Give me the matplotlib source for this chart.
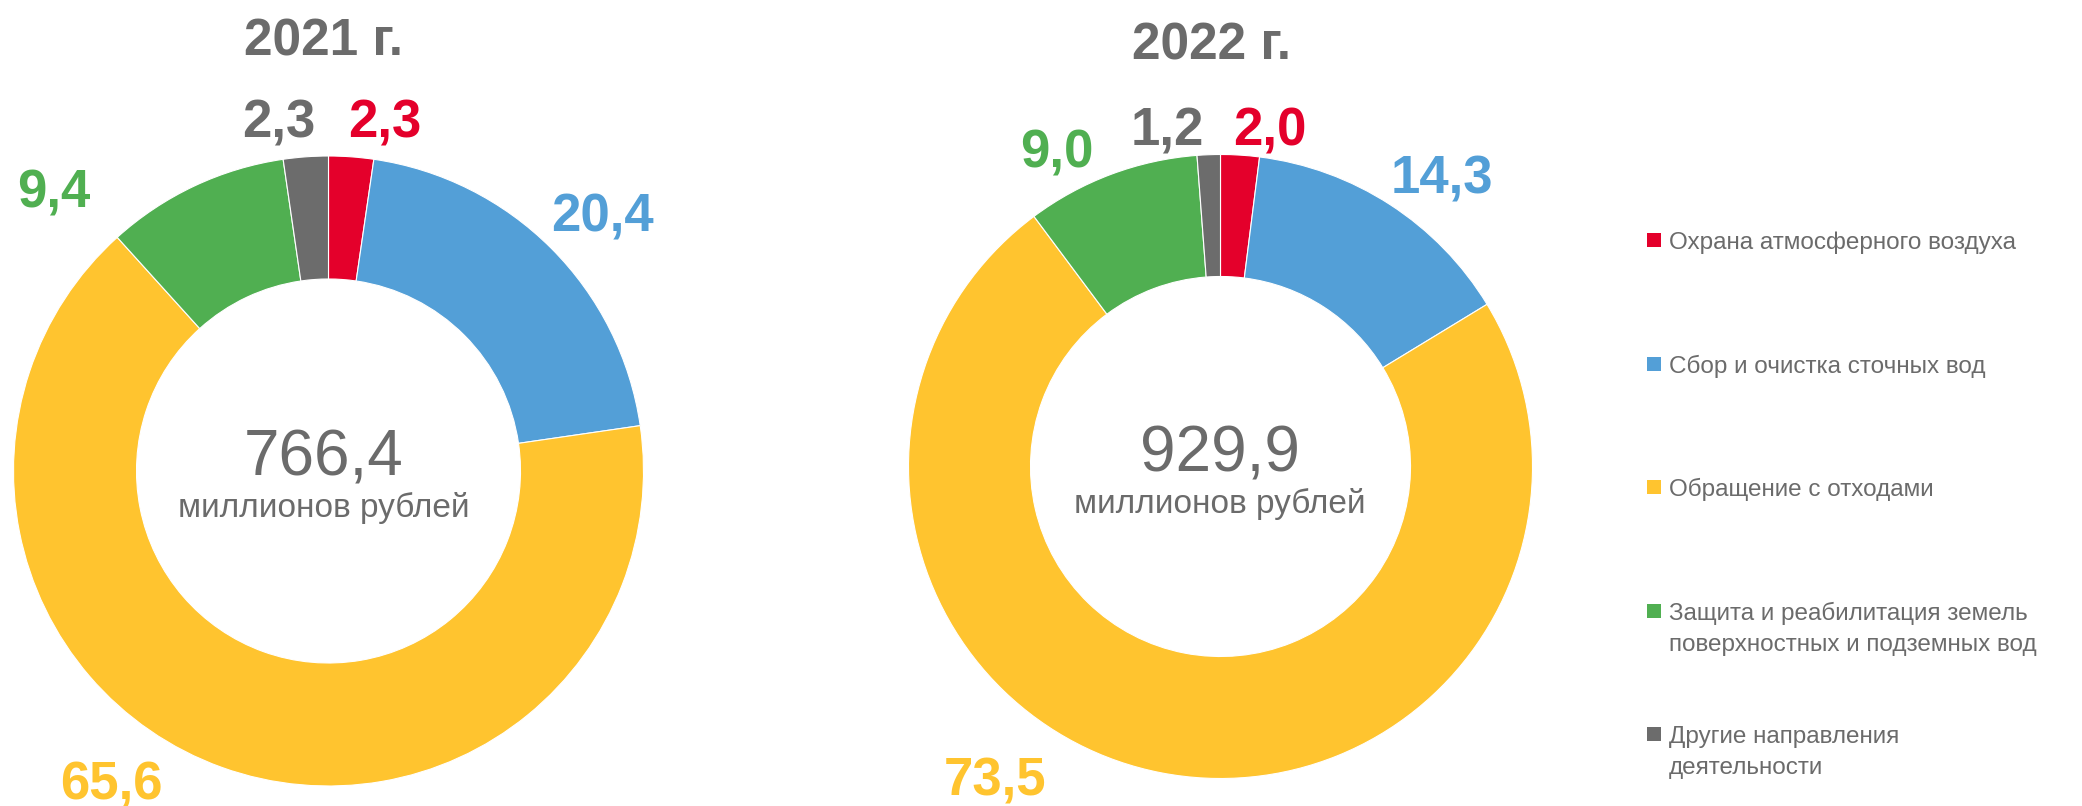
import matplotlib
matplotlib.use("Agg")
import matplotlib.pyplot as plt
from matplotlib.patches import Rectangle

plt.rcParams['font.family'] = ['Liberation Sans', 'DejaVu Sans']

# ---- data ----
categories = ["Охрана атмосферного воздуха",
              "Сбор и очистка сточных вод",
              "Обращение с отходами",
              "Защита и реабилитация земель\nповерхностных и подземных вод",
              "Другие направления\nдеятельности"]
values_2021 = [2.3, 20.4, 65.6, 9.4, 2.3]
values_2022 = [2.0, 14.3, 73.5, 9.0, 1.2]
totals = ["766,4", "929,9"]
years = ["2021 г.", "2022 г."]
unit = "миллионов рублей"
colors = ["#E4002B", "#539FD7", "#FFC42F", "#50AF51", "#6C6C6C"]
text_gray = "#6B6B6B"

W, H = 2082, 806
fig = plt.figure(figsize=(W / 100, H / 100), dpi=100)
ax = fig.add_axes([0, 0, 1, 1])

def Y(y):  # convert top-based pixel position to axes data (y up)
    return H - y

# ---- layout (pixel positions, top-based) ----
donuts = [
    dict(vals=values_2021, cx=328.5, cy=471, R=315, r=192,
         title=(324, 55), total=(324, 475), unit=(324, 517),
         labels=[(385, 138), (602, 232), (111, 799), (54, 208), (279, 138)]),
    dict(vals=values_2022, cx=1220.5, cy=466.5, R=312, r=190,
         title=(1211, 60), total=(1220, 471), unit=(1220, 513),
         labels=[(1270, 145), (1442, 193), (995, 795), (1057, 168), (1167, 145)]),
]

for i, d in enumerate(donuts):
    wedges, _ = ax.pie(d["vals"], colors=colors, startangle=90, counterclock=False,
                       radius=d["R"], center=(d["cx"], Y(d["cy"])),
                       wedgeprops=dict(width=d["R"] - d["r"], edgecolor="white", linewidth=0.8))
    for v, c, (lx, ly) in zip(d["vals"], colors, d["labels"]):
        ax.text(lx, Y(ly), f"{v:.1f}".replace(".", ","), color=c, fontsize=38,
                fontweight="bold", ha="center", va="baseline")
    tx, ty = d["title"]
    ax.text(tx, Y(ty), years[i], color=text_gray, fontsize=37, fontweight="bold",
            ha="center", va="baseline")
    ux, uy = d["total"]
    ax.text(ux, Y(uy), totals[i], color=text_gray, fontsize=46, ha="center", va="baseline")
    mx, my = d["unit"]
    ax.text(mx, Y(my), unit, color=text_gray, fontsize=24, ha="center", va="baseline")

# ---- legend (manual, marker aligned with first line) ----
leg_x, leg_y0, leg_step, box = 1647, 240.4, 123.5, 14
line_gap = 31
for k, (lab, c) in enumerate(zip(categories, colors)):
    yc = leg_y0 + k * leg_step
    ax.add_patch(Rectangle((leg_x, Y(yc + box / 2)), box, box, facecolor=c, edgecolor="none"))
    for j, line in enumerate(lab.split("\n")):
        ax.text(leg_x + box + 8, Y(yc + 8.7 + j * line_gap), line, color=text_gray,
                fontsize=17.5, ha="left", va="baseline")

ax.set_xlim(0, W)
ax.set_ylim(0, H)
ax.set_aspect("equal")
ax.set_axis_off()
fig.savefig("out.png", dpi=100, facecolor="white")
